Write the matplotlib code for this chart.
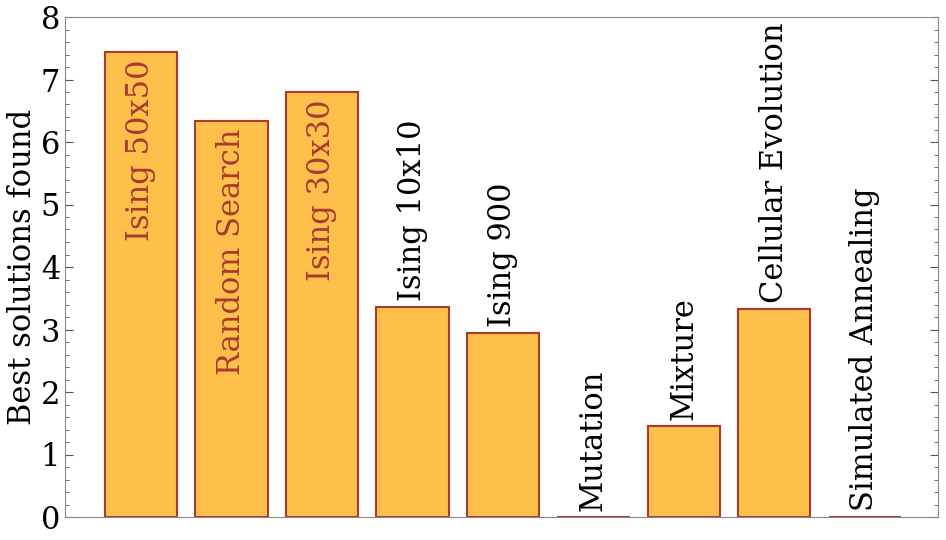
import matplotlib
matplotlib.use("Agg")
import matplotlib.pyplot as plt
from matplotlib.ticker import MultipleLocator

categories = ["Ising 50x50", "Random Search", "Ising 30x30", "Ising 10x10", "Ising 900",
              "Mutation", "Mixture", "Cellular Evolution", "Simulated Annealing"]
values = [7.44, 6.34, 6.80, 3.36, 2.94, 0.0, 1.45, 3.33, 0.0]

fill = "#FFBF4B"
edge = "#A83A2E"
plt.rcParams['font.family'] = ['DejaVu Serif']

fig = plt.figure(figsize=(9.46, 5.4), dpi=100)
ax = fig.add_axes([65/946, 23/540, 873/946, 500/540])
x = list(range(len(categories)))
ax.bar(x, values, width=0.8, color=fill, edgecolor=edge, linewidth=1.5)

for xi, v, name in zip(x, values, categories):
    if v > 5:
        ax.text(xi, v - 0.12, name, rotation=90, ha='center', va='top',
                fontsize=22, color=edge)
    else:
        ax.text(xi, v + 0.1, name, rotation=90, ha='center', va='bottom',
                fontsize=22, color='black')

ax.set_xlim(-0.84, 8.81)
ax.set_ylim(0, 8)
ax.set_xticks([])
ax.yaxis.set_major_locator(MultipleLocator(1))
ax.yaxis.set_minor_locator(MultipleLocator(0.2))
ax.tick_params(axis='y', which='both', direction='in', left=True, right=True,
               labelsize=22, colors='black')
ax.tick_params(axis='y', which='major', length=6, color='#555555')
ax.tick_params(axis='y', which='minor', length=3, color='#555555')
for s in ax.spines.values():
    s.set_color('#888888')
ax.set_ylabel("Best solutions found", fontsize=22, labelpad=2)
fig.savefig("out.png", dpi=100)
